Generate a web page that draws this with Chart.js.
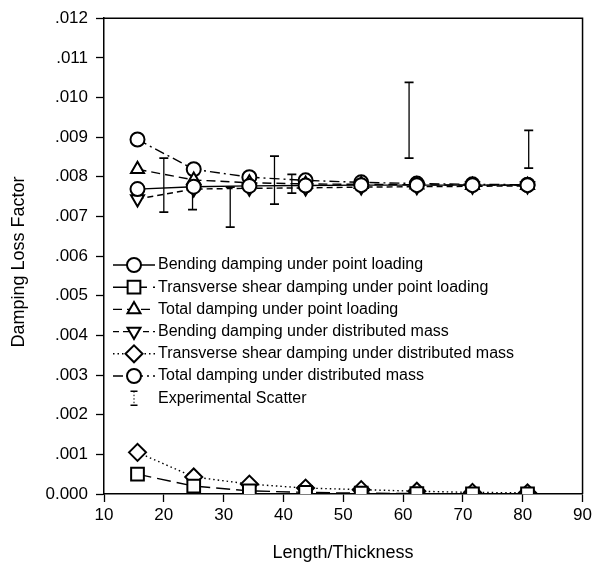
<!DOCTYPE html>
<html><head><meta charset="utf-8">
<script src="https://cdn.jsdelivr.net/npm/chart.js@4/dist/chart.umd.min.js"></script>
<style>html,body{margin:0;padding:0;background:#fff}#c{display:block}</style>
</head><body>
<canvas id="c" width="595" height="570"></canvas>
<script>
const xValues = [15.6, 25.0, 34.3, 43.7, 53.0, 62.3, 71.6, 80.8];
const bendingPoint = [0.00769, 0.00775, 0.00777, 0.00778, 0.00779, 0.00779, 0.00779, 0.00779];
const shearPoint = [0.00050, 0.00020, 0.00008, 0.00004, 0.00002, 0.00001, 0.000005, 0.000003];
const totalPoint = [0.00819, 0.00792, 0.00785, 0.00782, 0.00781, 0.00780, 0.00779, 0.00779];
const bendingDist = [0.00744, 0.00769, 0.00771, 0.00772, 0.00774, 0.00775, 0.00776, 0.00777];
const shearDist = [0.00105, 0.00043, 0.00025, 0.00015, 0.00011, 0.00007, 0.00004, 0.00003];
const totalDist = [0.00894, 0.00819, 0.00799, 0.00791, 0.00786, 0.00783, 0.00781, 0.00780];
const errX = [20.0, 24.8, 31.1, 38.5, 41.4, 61.0, 81.0];
const errLow = [0.00711, 0.00717, 0.00673, 0.00731, 0.00759, 0.00847, 0.00822];
const errHigh = [0.00847, 0.00785, 0.00774, 0.00852, 0.00806, 0.01038, 0.00917];
const seriesNames = [
  'Bending damping under point loading',
  'Transverse shear damping under point loading',
  'Total damping under point loading',
  'Bending damping under distributed mass',
  'Transverse shear damping under distributed mass',
  'Total damping under distributed mass',
  'Experimental Scatter'
];
const xTickLabels = ['10','20','30','40','50','60','70','80','90'];
const yTickLabels = ['0.000','.001','.002','.003','.004','.005','.006','.007','.008','.009','.010','.011','.012'];
const xTitle = 'Length/Thickness';
const yTitle = 'Damping Loss Factor';

const FAMILY = '"Liberation Sans", Arial, Helvetica, sans-serif';

function pts(ys){ return xValues.map((x,i)=>({x:x, y:ys[i]})); }
const errData = [];
errX.forEach((x,i)=>{ errData.push({x:x,y:errLow[i]}); errData.push({x:x,y:errHigh[i]}); errData.push({x:x,y:null}); });

const common = {showLine:true, borderColor:'#000', pointBorderColor:'#000', pointBackgroundColor:'#fff',
  borderWidth:1.4, pointBorderWidth:2, fill:false, tension:0};

const datasets = [
  Object.assign({}, common, {label:seriesNames[0], data:pts(bendingPoint), pointStyle:'circle', pointRadius:7, borderDash:[]}),
  Object.assign({}, common, {label:seriesNames[1], data:pts(shearPoint), pointStyle:'rect', pointRadius:9, borderDash:[14,6]}),
  Object.assign({}, common, {label:seriesNames[2], data:pts(totalPoint), pointStyle:'triangle', pointRadius:7.5, borderDash:[9,5]}),
  Object.assign({}, common, {label:seriesNames[3], data:pts(bendingDist), pointStyle:'triangle', pointRotation:180, pointRadius:7.5, borderDash:[6,4]}),
  Object.assign({}, common, {label:seriesNames[4], data:pts(shearDist), pointStyle:'rectRot', pointRadius:8.5, borderDash:[1.5,3]}),
  Object.assign({}, common, {label:seriesNames[5], data:pts(totalDist), pointStyle:'circle', pointRadius:7, borderDash:[10,4,2,4]}),
  Object.assign({}, common, {label:seriesNames[6], data:errData, pointStyle:'line', pointRadius:4.5, spanGaps:false, borderWidth:1.3, pointBorderWidth:1.8, borderDash:[]})
];

const framePlugin = {id:'frame', afterDraw(chart){
  const a = chart.chartArea, ctx = chart.ctx;
  ctx.save(); ctx.strokeStyle='#000'; ctx.lineWidth=1.5;
  ctx.beginPath(); ctx.moveTo(a.left, a.top); ctx.lineTo(a.right, a.top); ctx.lineTo(a.right, a.bottom); ctx.stroke();
  ctx.restore();
}};

const titlePlugin = {id:'titles', afterDraw(chart){
  const ctx = chart.ctx; ctx.save(); ctx.fillStyle='#000';
  ctx.font = '18px ' + FAMILY; ctx.textAlign='center'; ctx.textBaseline='middle';
  ctx.fillText(xTitle, 343, 553);
  ctx.translate(19, 262); ctx.rotate(-Math.PI/2); ctx.fillText(yTitle, 0, 0);
  ctx.restore();
}};

const legendPlugin = {id:'customLegend', afterDraw(chart){
  const ctx = chart.ctx; ctx.save();
  const x0=113, x1=155, xm=134, y0=265, dy=22.2;
  chart.data.datasets.forEach((ds,i)=>{
    const y = y0 + i*dy;
    ctx.strokeStyle='#000'; ctx.fillStyle='#fff';
    if (i < 6) {
      ctx.lineWidth = ds.borderWidth;
      ctx.setLineDash(ds.borderDash || []);
      ctx.beginPath(); ctx.moveTo(x0,y); ctx.lineTo(x1,y); ctx.stroke();
      ctx.setLineDash([]);
      ctx.lineWidth = ds.pointBorderWidth;
      Chart.helpers.drawPoint(ctx, {pointStyle:ds.pointStyle, rotation:ds.pointRotation||0, radius:ds.pointRadius, borderWidth:ds.pointBorderWidth}, xm, y);
    } else {
      ctx.lineWidth = 1.5;
      ctx.beginPath(); ctx.moveTo(xm-3.5,y-7); ctx.lineTo(xm+3.5,y-7); ctx.moveTo(xm-3.5,y+7); ctx.lineTo(xm+3.5,y+7); ctx.stroke();
      ctx.lineWidth = 1; ctx.setLineDash([1.5,2]);
      ctx.beginPath(); ctx.moveTo(xm,y-7); ctx.lineTo(xm,y+7); ctx.stroke(); ctx.setLineDash([]);
    }
    ctx.fillStyle='#000'; ctx.font = '16px ' + FAMILY; ctx.textAlign='left'; ctx.textBaseline='middle';
    ctx.fillText(ds.label, 158, y);
  });
  ctx.restore();
}};

new Chart(document.getElementById('c'), {
  type: 'scatter',
  data: {datasets: datasets},
  options: {
    responsive:false, animation:false, devicePixelRatio:1,
    layout:{padding:{left:0, right:10, top:16, bottom:0}},
    plugins:{legend:{display:false}, tooltip:{enabled:false}},
    scales:{
      x:{type:'linear', min:10, max:90,
        ticks:{stepSize:10, color:'#000', font:{size:17, family:FAMILY}, padding:3, maxRotation:0, callback:(v,i)=>xTickLabels[i]},
        grid:{drawOnChartArea:false, tickLength:8, color:'#000', tickWidth:1.3},
        border:{color:'#000', width:1.5},
        afterFit(s){ s.height = 76; }},
      y:{type:'linear', min:0, max:0.012,
        ticks:{stepSize:0.001, color:'#000', font:{size:17, family:FAMILY}, padding:8, callback:(v,i)=>yTickLabels[i]},
        grid:{drawOnChartArea:false, tickLength:8, color:'#000', tickWidth:1.3},
        border:{color:'#000', width:1.5},
        afterFit(s){ s.width = 104; }}
    }
  },
  plugins:[framePlugin, titlePlugin, legendPlugin]
});
</script>
</body></html>
